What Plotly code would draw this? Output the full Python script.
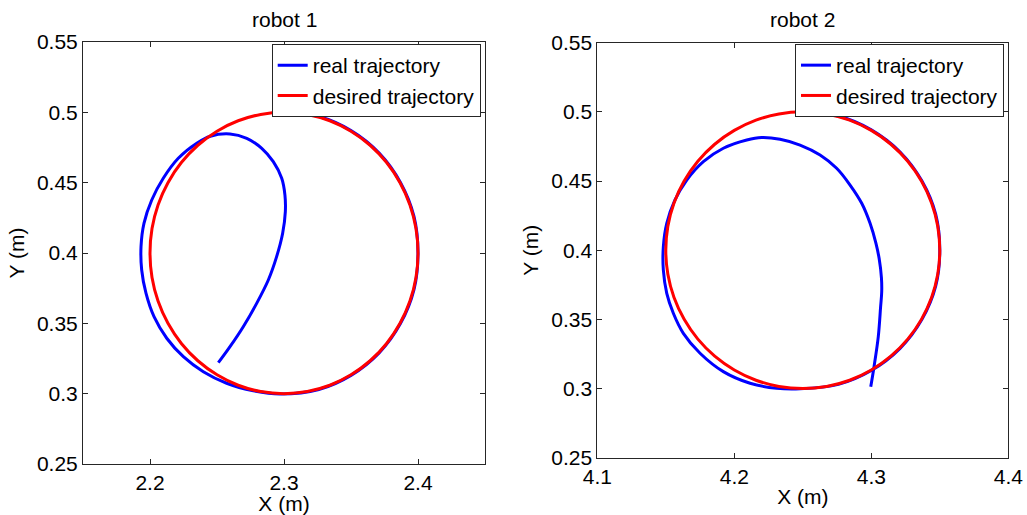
import plotly.graph_objects as go

# ---- robot 1 -------------------------------------------------------------
r1_real_x = [2.2510, 2.2597, 2.2696, 2.2796, 2.2883, 2.2945, 2.2990, 2.3010, 2.3007,
             2.2983, 2.2920, 2.2834, 2.2722, 2.2597, 2.2450, 2.2349, 2.2211, 2.2099,
             2.2013, 2.1955, 2.1933, 2.1938, 2.1970, 2.2030, 2.2125, 2.2249, 2.2398,
             2.2572, 2.2771, 2.2970, 2.3260, 2.3500, 2.3710, 2.3870, 2.3970, 2.4000,
             2.3970, 2.3870, 2.3710, 2.3500, 2.3260, 2.3000]
r1_real_y = [0.3220, 0.3334, 0.3476, 0.3642, 0.3808, 0.3974, 0.4140, 0.4294, 0.4412,
             0.4531, 0.4649, 0.4744, 0.4815, 0.4846, 0.4830, 0.4780, 0.4673, 0.4531,
             0.4377, 0.4211, 0.4045, 0.3879, 0.3714, 0.3547, 0.3394, 0.3263, 0.3156,
             0.3074, 0.3021, 0.2998, 0.3030, 0.3130, 0.3290, 0.3500, 0.3740, 0.4000,
             0.4260, 0.4500, 0.4710, 0.4870, 0.4970, 0.5000]
r1_des_x = [2.4000, 2.3985, 2.3940, 2.3866, 2.3766, 2.3643, 2.3500, 2.3342, 2.3174,
            2.3000, 2.2826, 2.2658, 2.2500, 2.2357, 2.2234, 2.2134, 2.2060, 2.2015,
            2.2000, 2.2015, 2.2060, 2.2134, 2.2234, 2.2357, 2.2500, 2.2658, 2.2826,
            2.3000, 2.3174, 2.3342, 2.3500, 2.3643, 2.3766, 2.3866, 2.3940, 2.3985,
            2.4000]
r1_des_y = [0.4000, 0.4174, 0.4342, 0.4500, 0.4643, 0.4766, 0.4866, 0.4940, 0.4985,
            0.5000, 0.4985, 0.4940, 0.4866, 0.4766, 0.4643, 0.4500, 0.4342, 0.4174,
            0.4000, 0.3826, 0.3658, 0.3500, 0.3357, 0.3234, 0.3134, 0.3060, 0.3015,
            0.3000, 0.3015, 0.3060, 0.3134, 0.3234, 0.3357, 0.3500, 0.3658, 0.3826,
            0.4000]

# ---- robot 2 -------------------------------------------------------------
r2_real_x = [4.2996, 4.3020, 4.3051, 4.3068, 4.3076, 4.3074, 4.3057, 4.3034, 4.2991,
             4.2930, 4.2845, 4.2747, 4.2626, 4.2480, 4.2334, 4.2200, 4.2091, 4.1920,
             4.1774, 4.1653, 4.1567, 4.1507, 4.1482, 4.1482, 4.1507, 4.1555, 4.1628,
             4.1750, 4.1920, 4.2115, 4.2309, 4.2480, 4.2760, 4.3000, 4.3210, 4.3370,
             4.3470, 4.3500, 4.3470, 4.3370, 4.3210, 4.3000, 4.2760, 4.2500]
r2_real_y = [0.3013, 0.3158, 0.3375, 0.3592, 0.3700, 0.3800, 0.3941, 0.4050, 0.4194,
             0.4339, 0.4471, 0.4592, 0.4688, 0.4760, 0.4802, 0.4815, 0.4797, 0.4737,
             0.4640, 0.4507, 0.4363, 0.4194, 0.4025, 0.3857, 0.3688, 0.3544, 0.3399,
             0.3255, 0.3122, 0.3038, 0.3002, 0.2998, 0.3030, 0.3130, 0.3290, 0.3500,
             0.3740, 0.4000, 0.4260, 0.4500, 0.4710, 0.4870, 0.4970, 0.5000]
r2_des_x = [4.3500, 4.3485, 4.3440, 4.3366, 4.3266, 4.3143, 4.3000, 4.2842, 4.2674,
            4.2500, 4.2326, 4.2158, 4.2000, 4.1857, 4.1734, 4.1634, 4.1560, 4.1515,
            4.1500, 4.1515, 4.1560, 4.1634, 4.1734, 4.1857, 4.2000, 4.2158, 4.2326,
            4.2500, 4.2674, 4.2842, 4.3000, 4.3143, 4.3266, 4.3366, 4.3440, 4.3485,
            4.3500]
r2_des_y = r1_des_y

# ---- axes ----------------------------------------------------------------
x1_range = [2.15, 2.45]
x1_ticks = [2.2, 2.3, 2.4]
x1_labels = ["2.2", "2.3", "2.4"]
x2_range = [4.1, 4.4]
x2_ticks = [4.1, 4.2, 4.3, 4.4]
x2_labels = ["4.1", "4.2", "4.3", "4.4"]
y_range = [0.25, 0.55]
y_ticks = [0.25, 0.30, 0.35, 0.40, 0.45, 0.50, 0.55]
y_labels = ["0.25", "0.3", "0.35", "0.4", "0.45", "0.5", "0.55"]

FONT = "Liberation Sans, Arial, sans-serif"
FS = 21
BLUE = "#0000FF"
RED = "#FF0000"

fig = go.Figure()

fig.add_trace(go.Scatter(x=r1_real_x, y=r1_real_y, mode="lines", name="real trajectory",
                         line=dict(color=BLUE, width=3, shape="spline"),
                         xaxis="x", yaxis="y", legend="legend"))
fig.add_trace(go.Scatter(x=r1_des_x, y=r1_des_y, mode="lines", name="desired trajectory",
                         line=dict(color=RED, width=3, shape="spline"),
                         xaxis="x", yaxis="y", legend="legend"))
fig.add_trace(go.Scatter(x=r2_real_x, y=r2_real_y, mode="lines", name="real trajectory",
                         line=dict(color=BLUE, width=3, shape="spline"),
                         xaxis="x2", yaxis="y2", legend="legend2"))
fig.add_trace(go.Scatter(x=r2_des_x, y=r2_des_y, mode="lines", name="desired trajectory",
                         line=dict(color=RED, width=3, shape="spline"),
                         xaxis="x2", yaxis="y2", legend="legend2"))

W, H = 1027, 515


def axis_common():
    return dict(showline=True, linecolor="#262626", linewidth=1, mirror="allticks",
                ticks="inside", ticklen=5, tickcolor="#262626", showgrid=False,
                zeroline=False, automargin=False,
                tickfont=dict(family=FONT, size=FS, color="#000"),
                title_font=dict(family=FONT, size=FS, color="#000"))


xa1 = axis_common()
xa1.update(domain=[83 / W, 485 / W], range=x1_range, tickvals=x1_ticks, ticktext=x1_labels,
           anchor="y", title=dict(text="X (m)", standoff=2))
ya1 = axis_common()
ya1.update(domain=[(H - 464) / H, (H - 42) / H], range=y_range, tickvals=y_ticks,
           ticktext=y_labels, anchor="x", title=dict(text="Y (m)", standoff=6))
xa2 = axis_common()
xa2.update(domain=[597.3 / W, 1008.3 / W], range=x2_range, tickvals=x2_ticks,
           ticktext=x2_labels, anchor="y2", title=dict(text="X (m)", standoff=2))
ya2 = axis_common()
ya2.update(domain=[(H - 457.7) / H, (H - 42.7) / H], range=y_range, tickvals=y_ticks,
           ticktext=y_labels, anchor="x2", title=dict(text="Y (m)", standoff=6))


def legend_at(x_px):
    return dict(x=x_px / W, y=(H - 44) / H, xanchor="left", yanchor="top",
                bgcolor="#FFFFFF", bordercolor="#262626", borderwidth=1,
                font=dict(family=FONT, size=FS, color="#000"), tracegroupgap=0)


fig.update_layout(
    width=W, height=H,
    margin=dict(l=0, r=0, t=0, b=0, autoexpand=False),
    paper_bgcolor="#FFFFFF", plot_bgcolor="#FFFFFF",
    showlegend=True,
    xaxis=xa1, yaxis=ya1, xaxis2=xa2, yaxis2=ya2,
    legend=legend_at(271.7), legend2=legend_at(795),
    annotations=[
        dict(text="robot 1", x=(83 + 485) / 2 / W, y=(H - 19) / H, xref="paper",
             yref="paper", showarrow=False, xanchor="center", yanchor="middle",
             font=dict(family=FONT, size=FS, color="#000")),
        dict(text="robot 2", x=(597.3 + 1008.3) / 2 / W, y=(H - 19) / H, xref="paper",
             yref="paper", showarrow=False, xanchor="center", yanchor="middle",
             font=dict(family=FONT, size=FS, color="#000")),
    ],
)

fig.write_html("out.html")
